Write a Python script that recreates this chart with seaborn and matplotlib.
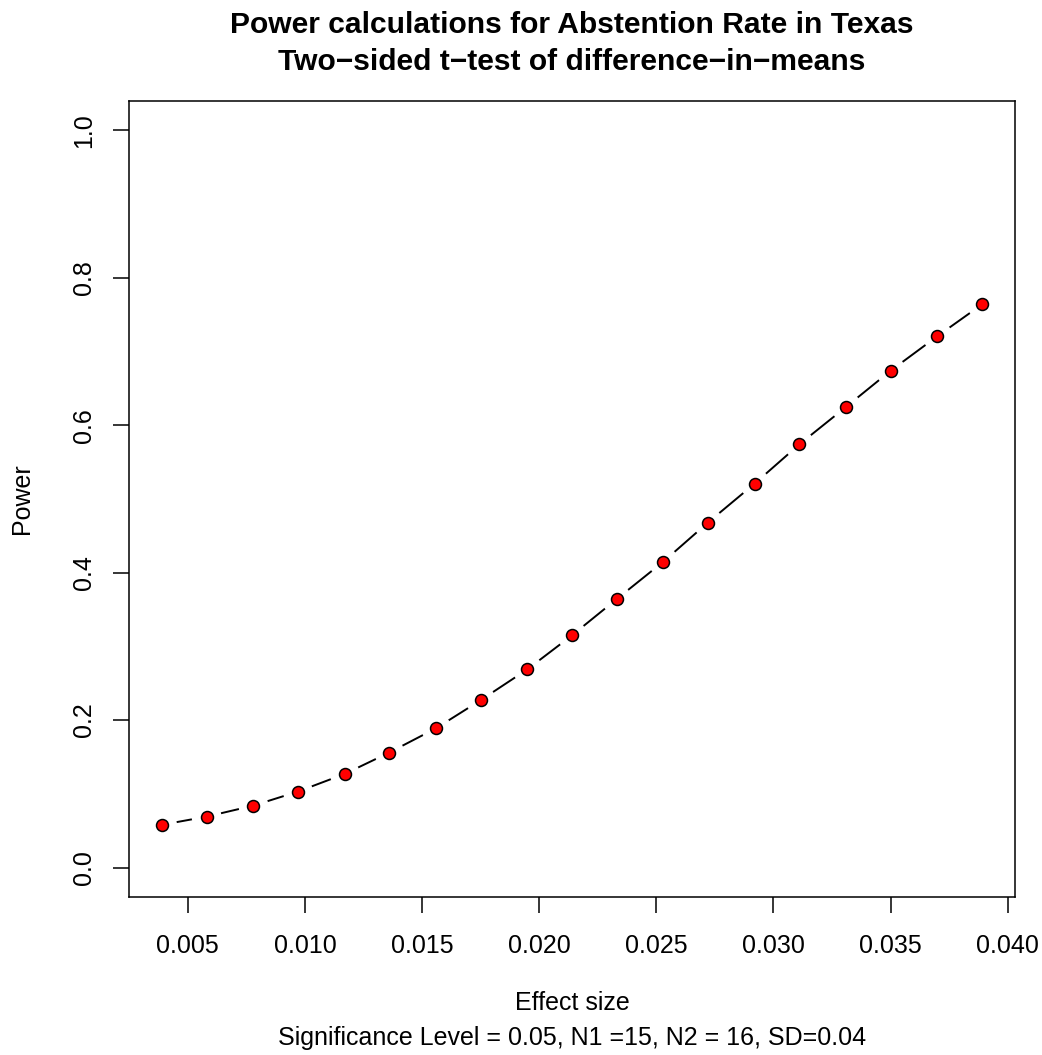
import matplotlib
matplotlib.use("Agg")
import matplotlib.pyplot as plt
import seaborn as sns
import pandas as pd

# Data
effect_size = [0.0039, 0.0058, 0.0078, 0.0097, 0.0117, 0.0136, 0.0156, 0.0175,
               0.0195, 0.0214, 0.0233, 0.0253, 0.0272, 0.0292, 0.0311, 0.0331,
               0.0350, 0.0370, 0.0389]
power = [0.058, 0.069, 0.084, 0.103, 0.127, 0.156, 0.189, 0.227, 0.269, 0.315,
         0.364, 0.415, 0.468, 0.521, 0.574, 0.625, 0.674, 0.721, 0.764]
x_ticks = [0.005, 0.010, 0.015, 0.020, 0.025, 0.030, 0.035, 0.040]
x_tick_labels = ["0.005", "0.010", "0.015", "0.020", "0.025", "0.030", "0.035", "0.040"]
y_ticks = [0.0, 0.2, 0.4, 0.6, 0.8, 1.0]
y_tick_labels = ["0.0", "0.2", "0.4", "0.6", "0.8", "1.0"]
title_lines = ["Power calculations for Abstention Rate in Texas",
               "Two\u2212sided t\u2212test of difference\u2212in\u2212means"]
x_label = "Effect size"
subtitle = "Significance Level = 0.05, N1 =15, N2 = 16, SD=0.04"
y_label = "Power"

df = pd.DataFrame({"effect": effect_size, "power": power})

sns.set_theme(style="ticks")
plt.rcParams["font.family"] = ["Liberation Sans", "DejaVu Sans"]
plt.rcParams["text.color"] = "black"

W, H = 1042, 1055
fig = plt.figure(figsize=(W / 100, H / 100), dpi=100)
ax = fig.add_axes([129 / W, 1 - 897 / H, (1015 - 129) / W, (897 - 101) / H])

# line (R type="b": solid segments with gaps around the points)
sns.lineplot(data=df, x="effect", y="power", ax=ax, color="black",
             linewidth=1.4, linestyle="-", sort=False, zorder=1)
# white halo markers to open the gaps around points
sns.scatterplot(data=df, x="effect", y="power", ax=ax, s=21.5 ** 2,
                color="white", edgecolor="none", linewidth=0, zorder=2)
# red filled points with black edge
sns.scatterplot(data=df, x="effect", y="power", ax=ax, s=8.6 ** 2,
                color="red", edgecolor="black", linewidth=1.1, zorder=3)

ax.set_xlim(0.00249, 0.04031)
ax.set_ylim(-0.04, 1.04)
ax.set_xticks(x_ticks)
ax.set_xticklabels(x_tick_labels)
ax.set_yticks(y_ticks)
ax.set_yticklabels(y_tick_labels, rotation=90, va="center")
ax.set_xlabel("")
ax.set_ylabel("")
for sp in ax.spines.values():
    sp.set_visible(True)
    sp.set_color("black")
    sp.set_linewidth(1.1)
ax.tick_params(axis="both", direction="out", length=11.5, width=1.1,
               color="black", labelsize=18, labelcolor="black")
ax.tick_params(axis="x", pad=15)
ax.tick_params(axis="y", pad=12)
ax.set_facecolor("white")
fig.patch.set_facecolor("white")

cx = (129 + 1015) / 2 / W
fig.text(cx, 1 - 25 / H, title_lines[0], ha="center", va="center",
         fontsize=21.6, fontweight="bold", color="black")
fig.text(cx, 1 - 62 / H, title_lines[1], ha="center", va="center",
         fontsize=21.6, fontweight="bold", color="black")
fig.text(cx, 1 - 1003 / H, x_label, ha="center", va="center", fontsize=18,
         color="black")
fig.text(cx, 1 - 1038 / H, subtitle, ha="center", va="center", fontsize=18,
         color="black")
fig.text(22 / W, 1 - 499 / H, y_label, ha="center", va="center",
         rotation=90, fontsize=18, color="black")

fig.savefig("out.png", dpi=100, facecolor="white")
